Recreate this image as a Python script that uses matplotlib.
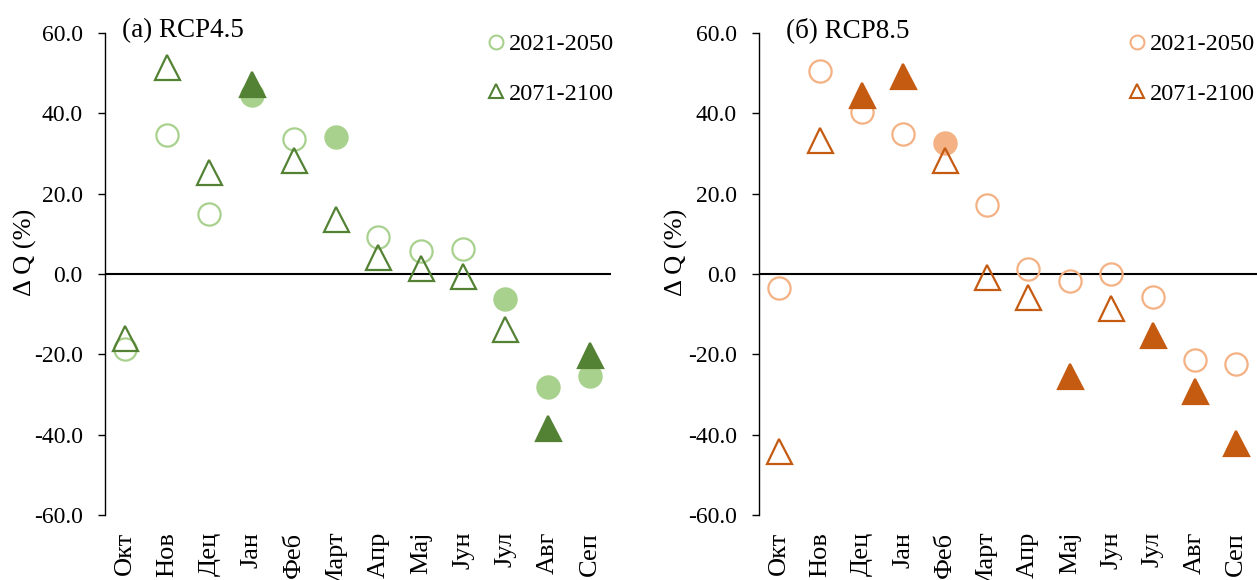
import numpy as np
import matplotlib.pyplot as plt

plt.rcParams['font.family'] = ['Liberation Serif', 'DejaVu Sans']

months = ['Окт', 'Нов', 'Дец', 'Јан', 'Феб', 'Март', 'Апр', 'Мај', 'Јун', 'Јул', 'Авг', 'Сеп']
periods = ['2021-2050', '2071-2100']

# RCP4.5
rcp45_near = [-18.7, 34.6, 14.9, 44.6, 33.6, 34.1, 9.2, 5.7, 6.2, -6.2, -28.1, -25.4]
rcp45_far = [-15.9, 51.5, 25.4, 47.3, 28.4, 13.7, 4.2, 1.5, -0.5, -13.7, -38.3, -20.2]
rcp45_near_sig = [0, 0, 0, 1, 0, 1, 0, 0, 0, 1, 1, 1]
rcp45_far_sig = [0, 0, 0, 1, 0, 0, 0, 0, 0, 0, 1, 1]

# RCP8.5
rcp85_near = [-3.5, 50.5, 40.3, 34.8, 32.6, 17.2, 1.2, -1.7, 0.0, -5.7, -21.4, -22.4]
rcp85_far = [-44.0, 33.3, 44.5, 49.3, 28.4, -0.7, -5.7, -25.4, -8.5, -15.2, -29.1, -42.0]
rcp85_near_sig = [0, 0, 0, 0, 1, 0, 0, 0, 0, 0, 0, 0]
rcp85_far_sig = [0, 0, 1, 1, 0, 0, 0, 1, 0, 1, 1, 1]

panels = [
    ('(a) RCP4.5', rcp45_near, rcp45_far, rcp45_near_sig, rcp45_far_sig, '#a9d18e', '#548235'),
    ('(б) RCP8.5', rcp85_near, rcp85_far, rcp85_near_sig, rcp85_far_sig, '#f4b183', '#c55a11'),
]

fig = plt.figure(figsize=(12.57, 5.8), dpi=100)
boxes = [[0.0835, 0.112, 0.4026, 0.831], [0.6038, 0.112, 0.3962, 0.831]]
leg_anchor = [(1.005, 1.0), (0.995, 1.0)]
title_x = [0.034, 0.055]
ylab_x = [-0.134, -0.143]

x = np.arange(len(months))
for i, (title, near, far, near_sig, far_sig, c_near, c_far) in enumerate(panels):
    ax = fig.add_axes(boxes[i])
    ax.axhline(0, color='black', lw=1.5, zorder=1)
    for series, sig, color, marker, ms in [(near, near_sig, c_near, 'o', 16),
                                           (far, far_sig, c_far, '^', 18)]:
        for xi, v, s in zip(x, series, sig):
            ax.plot(xi, v, marker=marker, ms=ms, mew=1.6, mec=color,
                    mfc=color if s else 'none', ls='none', zorder=3)
    # legend handles
    h1, = ax.plot([], [], 'o', ms=10, mew=1.5, mec=c_near, mfc='none')
    h2, = ax.plot([], [], '^', ms=10, mew=1.5, mec=c_far, mfc='none')
    ax.legend([h1, h2], periods, loc='upper right', bbox_to_anchor=leg_anchor[i],
              frameon=False, fontsize=17.5, handlelength=0.6, handletextpad=0.2,
              labelspacing=1.14, borderaxespad=0.0, borderpad=0.0)

    ax.set_xlim(-0.47, 11.5)
    ax.set_ylim(-60, 60)
    ax.set_yticks(np.arange(-60, 61, 20))
    ax.set_yticklabels([f'{v:.1f}' for v in np.arange(-60, 61, 20)], fontsize=17)
    ax.set_xticks(x)
    ax.set_xticklabels(months, rotation=90, fontsize=19, va='top')
    ax.tick_params(axis='x', length=0, pad=12)
    ax.tick_params(axis='y', length=5, width=1, direction='out', pad=11)
    for side in ['top', 'right', 'bottom']:
        ax.spines[side].set_visible(False)
    ax.spines['left'].set_linewidth(1)
    ax.set_ylabel('Δ Q (%)', fontsize=19)
    ax.yaxis.set_label_coords(ylab_x[i], 0.544)
    ax.text(title_x[i], 1.006, title, transform=ax.transAxes, fontsize=19.5, va='center', ha='left')

fig.savefig('out.png', dpi=100)
